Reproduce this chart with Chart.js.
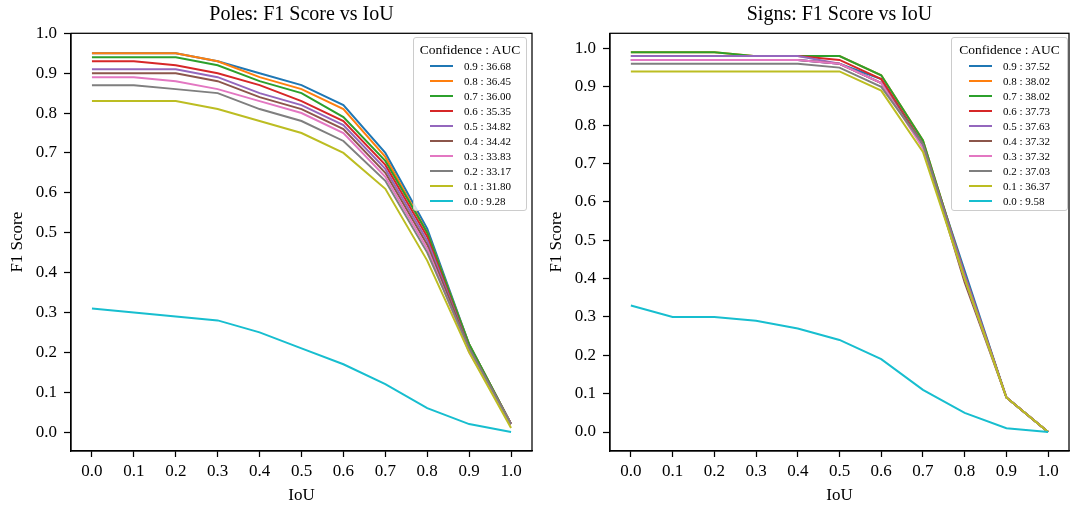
<!DOCTYPE html>
<html>
<head>
<meta charset="utf-8">
<script src="https://cdn.jsdelivr.net/npm/chart.js@4/dist/chart.umd.min.js"></script>
<style>
  body { margin: 0; background: #fff; width: 1072px; height: 509px; overflow: hidden; position: relative; font-family: "Liberation Serif", "Times New Roman", serif; }
  canvas { position: absolute; top: 0; }
  .legend { position: absolute; background: rgba(255,255,255,0.8); border: 1px solid #cccccc; border-radius: 3px; box-sizing: border-box; color: #000; }
  .legend .ttl { position: absolute; left: 0; right: 0; top: 4px; text-align: center; font-size: 13.5px; line-height: 16px; white-space: nowrap; }
  .legend .row { position: absolute; left: 0; right: 0; height: 14px; }
  .legend .swatch { position: absolute; top: 6px; height: 2px; width: 23px; }
  .legend .txt { position: absolute; top: 0; font-size: 11px; line-height: 14px; white-space: nowrap; }
</style>
</head>
<body>
<canvas id="poles" width="540" height="509" style="left:0"></canvas>
<canvas id="signs" width="532" height="509" style="left:540px"></canvas>
<div id="polesLegend" class="legend" style="left:413px; top:37px; width:114px; height:174px"></div>
<div id="signsLegend" class="legend" style="left:951px; top:37px; width:117px; height:174px"></div>
<script>
const iou = [0.0, 0.1, 0.2, 0.3, 0.4, 0.5, 0.6, 0.7, 0.8, 0.9, 1.0];
const yTicks = [0.0, 0.1, 0.2, 0.3, 0.4, 0.5, 0.6, 0.7, 0.8, 0.9, 1.0];
const confidence = ["0.9", "0.8", "0.7", "0.6", "0.5", "0.4", "0.3", "0.2", "0.1", "0.0"];
const colors = ["#1f77b4", "#ff7f0e", "#2ca02c", "#d62728", "#9467bd", "#8c564b", "#e377c2", "#7f7f7f", "#bcbd22", "#17becf"];

// Poles
const polesAuc = ["36.68", "36.45", "36.00", "35.35", "34.82", "34.42", "33.83", "33.17", "31.80", "9.28"];
const poles09 = [0.95, 0.95, 0.95, 0.93, 0.90, 0.87, 0.82, 0.70, 0.51, 0.22, 0.02];
const poles08 = [0.95, 0.95, 0.95, 0.93, 0.89, 0.86, 0.81, 0.69, 0.50, 0.22, 0.02];
const poles07 = [0.94, 0.94, 0.94, 0.92, 0.88, 0.85, 0.79, 0.68, 0.50, 0.22, 0.02];
const poles06 = [0.93, 0.93, 0.92, 0.90, 0.87, 0.83, 0.78, 0.67, 0.49, 0.21, 0.02];
const poles05 = [0.91, 0.91, 0.91, 0.89, 0.85, 0.82, 0.77, 0.66, 0.48, 0.21, 0.02];
const poles04 = [0.90, 0.90, 0.90, 0.88, 0.84, 0.81, 0.76, 0.65, 0.47, 0.21, 0.02];
const poles03 = [0.89, 0.89, 0.88, 0.86, 0.83, 0.80, 0.75, 0.64, 0.46, 0.20, 0.02];
const poles02 = [0.87, 0.87, 0.86, 0.85, 0.81, 0.78, 0.73, 0.63, 0.45, 0.21, 0.02];
const poles01 = [0.83, 0.83, 0.83, 0.81, 0.78, 0.75, 0.70, 0.61, 0.43, 0.20, 0.01];
const poles00 = [0.31, 0.30, 0.29, 0.28, 0.25, 0.21, 0.17, 0.12, 0.06, 0.02, 0.00];

// Signs
const signsAuc = ["37.52", "38.02", "38.02", "37.73", "37.63", "37.32", "37.32", "37.03", "36.37", "9.58"];
const signs09 = [0.97, 0.97, 0.97, 0.97, 0.97, 0.96, 0.92, 0.75, 0.42, 0.09, 0.00];
const signs08 = [0.99, 0.99, 0.99, 0.98, 0.98, 0.98, 0.93, 0.76, 0.41, 0.09, 0.00];
const signs07 = [0.99, 0.99, 0.99, 0.98, 0.98, 0.98, 0.93, 0.76, 0.41, 0.09, 0.00];
const signs06 = [0.98, 0.98, 0.98, 0.98, 0.98, 0.97, 0.92, 0.75, 0.41, 0.09, 0.00];
const signs05 = [0.98, 0.98, 0.98, 0.98, 0.98, 0.96, 0.91, 0.75, 0.41, 0.09, 0.00];
const signs04 = [0.97, 0.97, 0.97, 0.97, 0.97, 0.96, 0.91, 0.75, 0.39, 0.09, 0.00];
const signs03 = [0.97, 0.97, 0.97, 0.97, 0.97, 0.96, 0.91, 0.74, 0.40, 0.09, 0.00];
const signs02 = [0.96, 0.96, 0.96, 0.96, 0.96, 0.95, 0.90, 0.75, 0.40, 0.09, 0.00];
const signs01 = [0.94, 0.94, 0.94, 0.94, 0.94, 0.94, 0.89, 0.73, 0.40, 0.09, 0.00];
const signs00 = [0.33, 0.30, 0.30, 0.29, 0.27, 0.24, 0.19, 0.11, 0.05, 0.01, 0.00];

const polesSeries = [poles09, poles08, poles07, poles06, poles05, poles04, poles03, poles02, poles01, poles00];
const signsSeries = [signs09, signs08, signs07, signs06, signs05, signs04, signs03, signs02, signs01, signs00];

const serif = "'Liberation Serif', 'Times New Roman', serif";

// black box around the plot area, like a matplotlib axes frame
const frame = {
  id: "frame",
  afterDraw(chart) {
    const { ctx, chartArea: a } = chart;
    ctx.save();
    ctx.strokeStyle = "#000";
    ctx.lineWidth = 1.25;
    ctx.strokeRect(a.left, a.top, a.right - a.left, a.bottom - a.top);
    ctx.restore();
  }
};

function makeChart(id, title, series, aucs, yMin, yMax, yWidth, padRight, yTitlePad) {
  const datasets = series.map((vals, i) => ({
    label: confidence[i] + " : " + aucs[i],
    data: iou.map((x, j) => ({ x: x, y: vals[j] })),
    borderColor: colors[i],
    backgroundColor: colors[i],
    borderWidth: 2,
    pointRadius: 0,
    tension: 0,
    fill: false,
    // later series paint over earlier ones
    order: series.length - i
  }));

  return new Chart(document.getElementById(id).getContext("2d"), {
    type: "line",
    data: { datasets: datasets },
    plugins: [frame],
    options: {
      responsive: false,
      animation: false,
      devicePixelRatio: 1,
      layout: { padding: { left: 0, right: padRight, top: 0, bottom: 0 } },
      plugins: {
        legend: { display: false },
        tooltip: { enabled: false },
        title: {
          display: true,
          fullSize: false,
          text: title,
          color: "#000",
          font: { family: serif, size: 20, weight: "normal" },
          padding: { top: 3, bottom: 6.3 }
        }
      },
      scales: {
        x: {
          type: "linear",
          min: -0.05,
          max: 1.05,
          afterBuildTicks: (s) => { s.ticks = iou.map(v => ({ value: v })); },
          afterFit: (s) => { s.height = 58; },
          grid: { display: true, drawOnChartArea: false, tickLength: 6, tickColor: "#000", tickWidth: 1.25 },
          border: { display: true, color: "#000", width: 1.25 },
          ticks: {
            color: "#000",
            font: { family: serif, size: 17 },
            padding: 4,
            maxRotation: 0,
            autoSkip: false,
            callback: (v) => Number(v).toFixed(1)
          },
          title: {
            display: true,
            text: "IoU",
            color: "#000",
            font: { family: serif, size: 17 },
            padding: { top: 2, bottom: 3 }
          }
        },
        y: {
          type: "linear",
          min: yMin,
          max: yMax,
          afterBuildTicks: (s) => { s.ticks = yTicks.map(v => ({ value: v })); },
          afterFit: (s) => { s.width = yWidth; },
          grid: { display: true, drawOnChartArea: false, tickLength: 7, tickColor: "#000", tickWidth: 1.25 },
          border: { display: true, color: "#000", width: 1.25 },
          ticks: {
            color: "#000",
            font: { family: serif, size: 17 },
            padding: 7,
            callback: (v) => Number(v).toFixed(1)
          },
          title: {
            display: true,
            text: "F1 Score",
            color: "#000",
            font: { family: serif, size: 17 },
            padding: { top: yTitlePad, bottom: 0 }
          }
        }
      }
    }
  });
}

function makeLegend(id, chart, swatchLeft, textLeft) {
  const box = document.getElementById(id);
  const ttl = document.createElement("div");
  ttl.className = "ttl";
  ttl.textContent = "Confidence : AUC";
  box.appendChild(ttl);
  chart.data.datasets.forEach((ds, i) => {
    const row = document.createElement("div");
    row.className = "row";
    row.style.top = (21 + 15 * i) + "px";
    const sw = document.createElement("div");
    sw.className = "swatch";
    sw.style.left = swatchLeft + "px";
    sw.style.background = ds.borderColor;
    const txt = document.createElement("div");
    txt.className = "txt";
    txt.style.left = textLeft + "px";
    txt.textContent = ds.label;
    row.appendChild(sw);
    row.appendChild(txt);
    box.appendChild(row);
  });
}

const polesChart = makeChart("poles", "Poles: F1 Score vs IoU", polesSeries, polesAuc, -0.0475, 1.0, 71, 8, 7);
const signsChart = makeChart("signs", "Signs: F1 Score vs IoU", signsSeries, signsAuc, -0.0495, 1.0395, 70, 3, 6);
makeLegend("polesLegend", polesChart, 16, 50);
makeLegend("signsLegend", signsChart, 17, 51);
</script>
</body>
</html>
